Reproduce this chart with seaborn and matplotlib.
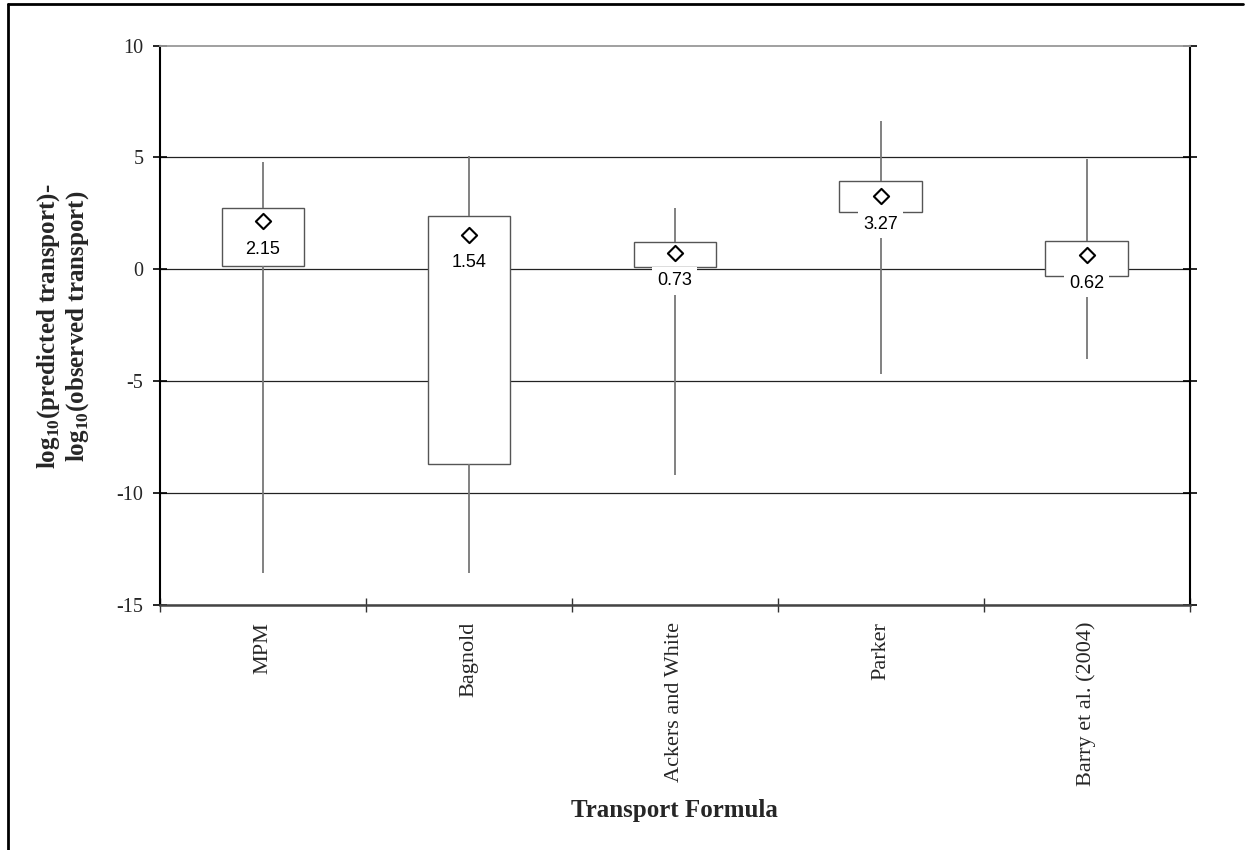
import matplotlib
matplotlib.use('Agg')
import matplotlib.pyplot as plt
import matplotlib.lines as mlines
import numpy as np
import pandas as pd
import seaborn as sns

# Summary statistics of log10(predicted) - log10(observed) per transport formula
formulas = ['MPM', 'Bagnold', 'Ackers and White', 'Parker', 'Barry et al. (2004)']
whisker_low = [-13.58, -13.58, -9.19, -4.69, -4.01]
quartile_1 = [0.15, -8.70, 0.10, 2.55, -0.29]
quartile_3 = [2.73, 2.38, 1.23, 3.95, 1.26]
whisker_high = [4.81, 5.06, 2.73, 6.63, 4.93]
means = [2.15, 1.54, 0.73, 3.27, 0.62]
y_ticks = [-15, -10, -5, 0, 5, 10]

sns.set_theme(style='white')
plt.rcParams['font.family'] = ['Liberation Serif', 'DejaVu Serif']
plt.rcParams['mathtext.fontset'] = 'custom'
plt.rcParams['mathtext.rm'] = 'Liberation Serif'
plt.rcParams['mathtext.bf'] = 'Liberation Serif:bold'

# Five values per formula so the box spans the quartiles and the whiskers reach the extremes
rows = []
for name, lo, q1, m, q3, hi in zip(formulas, whisker_low, quartile_1, means, quartile_3, whisker_high):
    for v in (lo, q1, m, q3, hi):
        rows.append({'formula': name, 'value': v})
box_df = pd.DataFrame(rows)
mean_df = pd.DataFrame({'formula': formulas, 'mean': means})

W, H = 1253, 850
fig = plt.figure(figsize=(W / 100, H / 100), dpi=100)
ax = fig.add_axes([160 / W, 1 - 605 / H, 1029.5 / W, 559.5 / H])

sns.boxplot(data=box_df, x='formula', y='value', order=formulas, ax=ax,
            width=0.4, whis=(0, 100), showcaps=False, showfliers=False,
            color='white', linecolor='#555555', linewidth=1.0, fill=True,
            whiskerprops={'color': '#777777', 'linewidth': 1.3},
            medianprops={'visible': False})

sns.scatterplot(data=mean_df, x='formula', y='mean', ax=ax, marker='D', s=60,
                color='white', edgecolor='black', linewidth=1.5, zorder=5, legend=False)

for i, m in enumerate(means):
    ax.annotate(f'{m:.2f}', xy=(i, m), xytext=(0, -28), textcoords='offset pixels',
                ha='center', va='center', fontsize=13, family='Liberation Sans',
                color='black', zorder=6,
                bbox=dict(boxstyle='square,pad=0.28', fc='white', ec='none'))

ax.set_xlim(-0.5, 4.5)
ax.set_ylim(-15, 10)
ax.set_yticks(y_ticks)
ax.set_yticklabels([str(t) for t in y_ticks])
ax.yaxis.grid(True, color='#222222', linewidth=0.9)
ax.xaxis.grid(False)
ax.set_axisbelow(True)
ax.get_ygridlines()[-1].set_visible(False)

for side, col, lw in [('left', 'black', 1.5), ('right', 'black', 1.5),
                      ('bottom', '#444444', 1.8), ('top', '#999999', 1.3)]:
    ax.spines[side].set_visible(True)
    ax.spines[side].set_color(col)
    ax.spines[side].set_linewidth(lw)

ax.tick_params(axis='y', which='major', direction='inout', length=10, width=1.2,
               color='black', left=True, right=True, labelleft=True, labelright=False,
               labelsize=14.5, pad=7)

ax.set_xticks(range(len(formulas)))
ax.set_xticklabels(formulas, rotation=90, fontsize=16)
ax.tick_params(axis='x', which='major', length=0, pad=12, bottom=True)
ax.set_xticks(np.arange(-0.5, len(formulas), 1.0), minor=True)
ax.tick_params(axis='x', which='minor', direction='inout', length=10.5, width=1.0,
               color='#333333', bottom=True)

ax.set_xlabel('Transport Formula', fontsize=18, fontweight='bold', va='center')
ax.xaxis.set_label_coords(0.5, (605 - 811) / 559.5)
ax.set_ylabel('log$_{\\mathbf{10}}$(predicted transport)-\nlog$_{\\mathbf{10}}$(observed transport)',
              fontsize=18, fontweight='bold', linespacing=1.1,
              va='center', ha='center', multialignment='center')
ax.yaxis.set_label_coords((63 - 160) / 1029.5, (605 - 326) / 559.5)

# Frame lines along the left and top edges of the figure
fig.add_artist(mlines.Line2D([8 / W, 8 / W], [0, 1 - 4.3 / H], transform=fig.transFigure,
                             color='black', linewidth=2))
fig.add_artist(mlines.Line2D([8 / W, 1243 / W], [1 - 4.3 / H, 1 - 4.3 / H],
                             transform=fig.transFigure, color='black', linewidth=2))

fig.savefig('out.png', dpi=100, facecolor='white')
